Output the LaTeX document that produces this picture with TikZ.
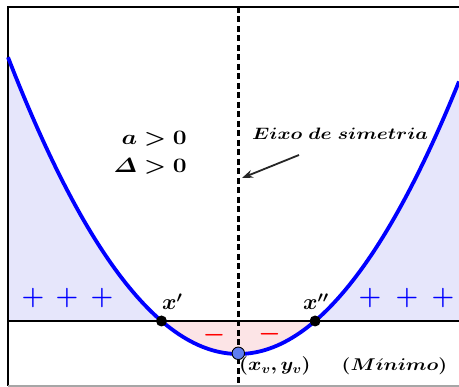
\RequirePackage{fix-cm}
\documentclass[tikz,border=0pt]{standalone}
\usepackage{amsmath,bm,graphicx}
\usetikzlibrary{arrows.meta}
\definecolor{lav}{RGB}{230,230,251}
\definecolor{pinkfill}{RGB}{252,228,230}
\definecolor{vtx}{RGB}{95,125,240}
\newcommand{\condsz}{\fontsize{20.5}{24}\selectfont}
\newcommand{\eixosz}{\fontsize{16.5}{19}\selectfont}
\newcommand{\rootsz}{\fontsize{22}{26}\selectfont}
\newcommand{\vtxsz}{\fontsize{18.5}{22}\selectfont}
\newcommand{\minsz}{\fontsize{17}{20}\selectfont}
\newcommand{\plsz}{\fontsize{26}{30}\selectfont}
\newcommand{\mnsz}{\fontsize{25}{30}\selectfont}
\tikzset{
  curve/.style={draw=blue,line width=3.8pt},
  axisline/.style={draw=black,line width=2.6pt},
  symline/.style={draw=black,line width=2.2pt,dash pattern=on 6pt off 3.5pt},
  rootdot/.style={circle,fill=black,inner sep=0pt,minimum size=11pt},
  vdot/.style={circle,draw=black,line width=0.9pt,fill=vtx,inner sep=0pt,minimum size=12.5pt},
  lbl/.style={inner sep=0pt},
  signp/.style={text=blue,font=\plsz,inner sep=0pt},
  signm/.style={text=red,font=\mnsz,inner sep=0pt},
}
\begin{document}
\begin{tikzpicture}[x=1pt,y=-1pt]
\useasboundingbox (0,0) rectangle (459,387);
\clip (0,0) rectangle (459,387);
% fills
\fill[lav] plot[domain=8:161.5,samples=60] (\x,{354-(0.0748*(\x-238.3))^2}) -- (161.5,321) -- (8,321) -- cycle;
\fill[lav] plot[domain=315.1:459,samples=60] (\x,{354-(0.0748*(\x-238.3))^2}) -- (459,321) -- (315.1,321) -- cycle;
\fill[pinkfill] plot[domain=161.5:315.1,samples=60] (\x,{354-(0.0748*(\x-238.3))^2}) -- cycle;
% frame
\draw[black,line width=2pt] (470,7) -- (8,7) -- (8,386);
\draw[gray!70,line width=1.5pt] (8,386) -- (470,386);
% axis
\coordinate (axL) at (8,321);
\coordinate (axR) at (470,321);
\draw[axisline] (axL) -- (axR);
% symmetry line
\coordinate (symT) at (238.5,7);
\coordinate (symB) at (238.5,387);
\draw[symline] (symT) -- (symB);
% parabola
\draw[curve] plot[domain=8:459,samples=120] (\x,{354-(0.0748*(\x-238.3))^2});
% points
\node[rootdot] (r1) at (161.5,321) {};
\node[rootdot] (r2) at (315.1,321) {};
\node[vdot] (v) at (238.3,353.3) {};
% labels
\node[lbl,anchor=base east] (ca) at (187,145) {\condsz\scalebox{1.2}[1]{$\bm{a>0}$}};
\node[lbl,anchor=base east] (cd) at (187,173) {\condsz\scalebox{1.2}[1]{$\bm{\varDelta>0}$}};
\node[lbl,anchor=base west] (eixo) at (252,139.3) {\eixosz\scalebox{1.21}[1]{$\bm{Eixo}\ \bm{de}\ \bm{simetria}$}};
\coordinate (arrS) at (299,155);
\coordinate (arrE) at (242,178);
\draw[black!85,line width=1.8pt,-{Stealth[length=11pt,width=8pt]}] (arrS) -- (arrE);
\node[lbl,anchor=base west] (x1) at (162,310) {\rootsz$\bm{x'}$};
\node[lbl,anchor=base west] (x2) at (303,310) {\rootsz$\bm{x''}$};
\node[signp] (p1) at (33,298) {$\bm{+}$};
\node[signp] (p2) at (67,298) {$\bm{+}$};
\node[signp] (p3) at (102,298) {$\bm{+}$};
\node[signp] (p4) at (370,298) {$\bm{+}$};
\node[signp] (p5) at (407,298) {$\bm{+}$};
\node[signp] (p6) at (443,298) {$\bm{+}$};
\node[signm] (m1) at (214,335) {$\bm{-}$};
\node[signm] (m2) at (269.5,334) {$\bm{-}$};
\node[lbl,anchor=west] (xv) at (239,366) {\vtxsz\scalebox{1.1}[1]{$\bm{(x_v,y_v)}$}};
\node[lbl] (min) at (394.5,366) {\minsz\scalebox{1.18}[1]{$\bm{(M}\acute{\bm{\imath}}\bm{nimo)}$}};
\end{tikzpicture}
\end{document}
